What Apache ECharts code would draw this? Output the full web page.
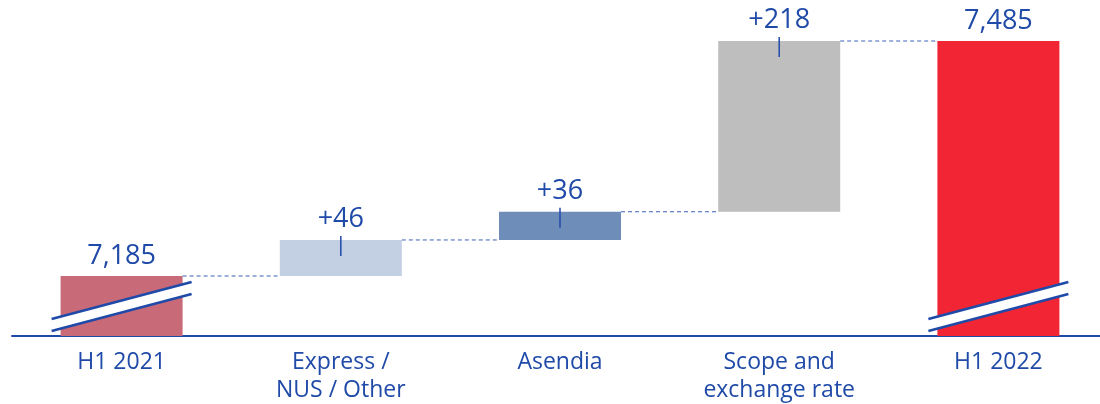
<!DOCTYPE html>
<html>
<head>
<meta charset="utf-8">
<script src="https://cdn.jsdelivr.net/npm/echarts@6/dist/echarts.min.js"></script>
<style>
  html, body { margin: 0; padding: 0; background: #fff; }
  #chart { width: 1100px; height: 404px; }
</style>
</head>
<body>
<div id="chart"></div>
<script>
// waterfall data
const categories = ['H1 2021', 'Express /\nNUS / Other', 'Asendia', 'Scope and\nexchange rate', 'H1 2022']
const totals = [7185, '-', '-', '-', 7485]
const bases = ['-', 7185, 7231, 7267, '-']
const deltas = ['-', 46, 36, 218, '-']
const labels = ['7,185', '+46', '+36', '+218', '7,485']
const colors = ['#C96A78', '#C3CFE2', '#6F8DB9', '#BEBEBE', '#F22535']
const levels = [7185, 7231, 7267, 7485]   // connector heights
const breakCats = [0, 4]

const NAVY = '#1F4AA8'
const FONT = 'Open Sans'
const BAR_W = 122
const Y_MIN = 7108.4

const chart = echarts.init(document.getElementById('chart'))

const labelStyle = {
  show: true, position: 'top', distance: 7,
  color: NAVY, fontSize: 27, fontFamily: FONT,
}

chart.setOption({
  animation: false,
  grid: { left: 12, right: -8, top: 41, bottom: 68, outerBoundsMode: 'none', containLabel: false },
  xAxis: {
    type: 'category', data: categories,
    axisTick: { show: false },
    axisLine: { lineStyle: { color: NAVY, width: 2 } },
    axisLabel: { color: NAVY, fontSize: 23, fontFamily: FONT, lineHeight: 28, margin: 12 },
  },
  yAxis: { type: 'value', min: Y_MIN, max: 7485, show: false, splitLine: { show: false } },
  series: [
    {
      type: 'bar', stack: 'w', barWidth: BAR_W, data: bases,
      itemStyle: { color: 'transparent' }, silent: true,
    },
    {
      type: 'bar', stack: 'w', barWidth: BAR_W,
      data: deltas.map((v, i) => ({ value: v, itemStyle: { color: colors[i] } })),
      label: { ...labelStyle, formatter: p => labels[p.dataIndex] },
    },
    {
      type: 'bar', stack: 't', barWidth: BAR_W, barGap: '-100%',
      data: totals.map((v, i) => ({ value: v, itemStyle: { color: colors[i] } })),
      label: { ...labelStyle, distance: 6, formatter: p => labels[p.dataIndex] },
    },
    // dashed connectors
    {
      type: 'custom', silent: true, z: 5,
      data: levels.map((v, i) => [i, v]),
      renderItem: (params, api) => {
        const i = api.value(0), v = api.value(1)
        const p0 = api.coord([i, v]), p1 = api.coord([i + 1, v])
        return {
          type: 'line',
          shape: { x1: p0[0] + BAR_W / 2, y1: p0[1], x2: p1[0] - BAR_W / 2, y2: p1[1] },
          style: { stroke: '#3A62B8', lineWidth: 1, lineDash: [4, 3] },
        }
      },
    },
    // small tick marks under the increment labels
    {
      type: 'custom', silent: true, z: 5,
      data: [[1, 7231], [2, 7267], [3, 7485]],
      renderItem: (params, api) => {
        const p = api.coord([api.value(0), api.value(1)])
        return {
          type: 'line',
          shape: { x1: p[0], y1: p[1] - 4, x2: p[0], y2: p[1] + 16 },
          style: { stroke: NAVY, lineWidth: 1.5 },
        }
      },
    },
    // axis break marks
    {
      type: 'custom', silent: true, z: 6,
      data: breakCats.map(c => [c, Y_MIN]),
      renderItem: (params, api) => {
        const p = api.coord([api.value(0), api.value(1)])
        const cx = p[0], b = p[1]
        const a1 = [cx - 70, b - 17], a2 = [cx + 70, b - 54]
        const c1 = [cx - 70, b - 5], c2 = [cx + 70, b - 42]
        return {
          type: 'group',
          children: [
            { type: 'polygon', shape: { points: [a1, a2, c2, c1] }, style: { fill: '#fff' } },
            { type: 'line', shape: { x1: a1[0], y1: a1[1], x2: a2[0], y2: a2[1] }, style: { stroke: NAVY, lineWidth: 2.5 } },
            { type: 'line', shape: { x1: c1[0], y1: c1[1], x2: c2[0], y2: c2[1] }, style: { stroke: NAVY, lineWidth: 2.5 } },
          ],
        }
      },
    },
  ],
})
</script>
</body>
</html>
